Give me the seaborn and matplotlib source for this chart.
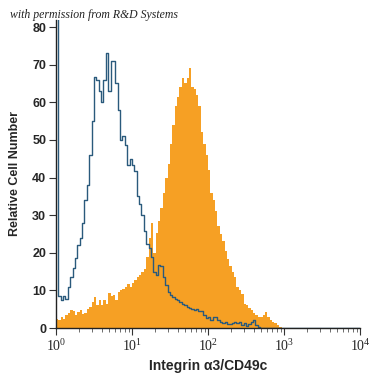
import matplotlib
matplotlib.use("Agg")
import matplotlib.pyplot as plt
import matplotlib.ticker as mticker
import numpy as np
import seaborn as sns

# --- data: counts per log-spaced channel (32 channels per decade, 10^0 .. 10^4) ---
isotype_counts = [
    95, 8.5, 7.5, 8.5, 7.8, 11, 13.5, 16, 18.5, 22,
    24, 28, 34, 38, 46, 55, 66.8, 66, 63, 60,
    66, 73, 63, 71, 71, 65, 58, 50, 51, 48.6,
    43.4, 45, 43.4, 41.6, 35, 33, 30, 25.7, 22.2, 21.3,
    19, 15, 14.2, 16.8, 16.5, 13.5, 11.5, 9.5, 8.8, 8.3,
    7.6, 7.5, 7, 6.5, 6, 5.7, 5.3, 5, 4.8, 5,
    4.5, 4.4, 3.5, 2.6, 2.8, 2.2, 3, 3, 2, 1.6,
    1.3, 1.5, 1, 1, 1.4, 1.7, 1.2, 1.5, 0.8, 1.3,
    0.6, 1, 1.5, 2, 0.8, 0.3,
]
antibody_counts = [
    2.5, 2, 3, 2.5, 3.5, 4, 4.8, 4.5, 3.5, 4.2,
    4.8, 3.8, 4, 5, 5.7, 7, 8.3, 6, 7.4, 6.2,
    7.5, 6.5, 9.3, 8.5, 8.8, 7.5, 9.5, 10, 10.5, 11,
    11.8, 11, 12, 12.8, 13.6, 14, 15, 15.8, 19, 24,
    27.8, 20, 25.2, 28.5, 32, 36, 40, 43.5, 49, 54,
    59, 61.5, 64, 66.5, 65, 66.4, 69, 64, 63.5, 62,
    59, 52, 49, 46, 42, 36, 34, 31, 27, 25,
    23, 20.5, 18.3, 16.5, 15, 13.6, 11, 10, 9, 6.5,
    6, 5.3, 4.8, 4, 3.5, 3, 2.8, 3.5, 4.3, 3,
    2, 1.5, 1.2, 0.8, 0.4,
]
x_ticks = [1, 10, 100, 1000, 10000]
x_tick_labels = ["$10^0$", "$10^1$", "$10^2$", "$10^3$", "$10^4$"]
y_ticks = [0, 10, 20, 30, 40, 50, 60, 70, 80]

n_bins = 128
log_centers = (np.arange(n_bins) + 0.5) / 32.0
centers = 10 ** log_centers
iso = np.zeros(n_bins)
iso[:len(isotype_counts)] = isotype_counts
ab = np.zeros(n_bins)
ab[:len(antibody_counts)] = antibody_counts

sns.set_style("ticks")
plt.rcParams["font.family"] = ["Liberation Sans", "DejaVu Sans"]
plt.rcParams["mathtext.fontset"] = "custom"
plt.rcParams["mathtext.rm"] = "Liberation Serif"
plt.rcParams["mathtext.it"] = "Liberation Serif:italic"

fig = plt.figure(figsize=(3.75, 3.75), dpi=100)
ax = fig.add_axes([0.1493, 0.1253, 0.8107, 0.8227])

orange = "#F6A024"
navy = "#2A5A7C"

sns.histplot(x=centers, weights=ab, bins=n_bins, binrange=(0, 4), log_scale=True,
             element="step", fill=True, color=orange, alpha=1.0, linewidth=0, ax=ax)
sns.histplot(x=centers, weights=iso, bins=n_bins, binrange=(0, 4), log_scale=True,
             element="step", fill=False, color=navy, linewidth=1.0, ax=ax)

ax.set_xlim(1, 10000)
ax.set_ylim(0, 82)
ax.set_xticks(x_ticks)
ax.set_xticklabels(x_tick_labels, fontsize=10)
ax.xaxis.set_minor_locator(mticker.LogLocator(base=10, subs=np.arange(2, 10), numticks=20))
ax.xaxis.set_minor_formatter(mticker.NullFormatter())
ax.set_yticks(y_ticks)
ax.set_yticklabels([str(v) for v in y_ticks], fontsize=9, fontweight="bold")
ax.tick_params(axis="both", which="major", length=5, width=0.8, color="#333333", pad=2)
ax.tick_params(axis="x", which="minor", length=3, width=0.6, color="#555555")
for s in ["left", "bottom"]:
    ax.spines[s].set_linewidth(1.0)
    ax.spines[s].set_color("#222222")
sns.despine(ax=ax)

ax.set_xlabel("Integrin \u03b13/CD49c", fontsize=10, fontweight="bold", labelpad=4)
ax.set_ylabel("Relative Cell Number", fontsize=9, fontweight="bold", labelpad=8)

fig.text(0.027, 0.952, "with permission from R&D Systems", fontsize=8.5,
         style="italic", family=["Liberation Serif", "DejaVu Serif"], color="#222222")

fig.savefig("out.png", dpi=100)
